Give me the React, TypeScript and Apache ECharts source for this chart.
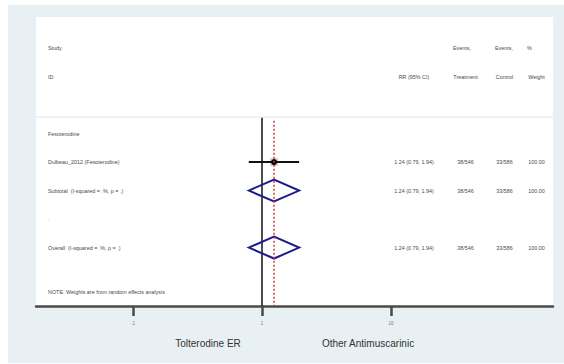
import React, { useEffect, useRef } from "react";
import * as echarts from "echarts";

// ---- data ----
const headerTop = ["Study", "Events,", "Events,", "%"];
const headerBottom = ["ID", "RR (95% CI)", "Treatment", "Control", "Weight"];
const rowLabels = [
  "Fesoterodine",
  "Dulbeau_2012 (Fesoterodine)",
  "Subtotal  (I-squared = .%, p = .)",
  ".",
  "Overall  (I-squared = .%, p = .)",
];
const rowKinds = ["group", "study", "diamond", "blank", "diamond"];
const rrEstimate = [null, 1.24, 1.24, null, 1.24];
const rrLower = [null, 0.79, 0.79, null, 0.79];
const rrUpper = [null, 1.94, 1.94, null, 1.94];
const ciLabels = ["", "1.24 (0.79, 1.94)", "1.24 (0.79, 1.94)", "", "1.24 (0.79, 1.94)"];
const eventsTreatment = ["", "38/546", "38/546", "", "38/546"];
const eventsControl = ["", "33/586", "33/586", "", "33/586"];
const weightPct = ["", "100.00", "100.00", "", "100.00"];
const overallRR = 1.24;
const nullRR = 1;
const tickValues = [0.1, 1, 10];
const tickLabels = [".1", "1", "10"];
const noteText = "NOTE: Weights are from random effects analysis";
const leftLabel = "Tolterodine ER";
const rightLabel = "Other Antimuscarinic";

// ---- layout ----
const FIRST_DATA_ROW = 3;
const NOTE_ROW = 8.55;
const COL_LEFT = 48;
const COL_CENTER = [414, 465.5, 504.5, 536.5];
const HEAD_TOP_X = [453, 495, 527];
const FONT = "Liberation Sans, Arial, sans-serif";
const TXT = 5.4;

type Cell = { x: number; text: string; align: string };
type TextRow = { row: number; cells: Cell[] };

const textRows: TextRow[] = [
  {
    row: 0,
    cells: [
      { x: COL_LEFT, text: headerTop[0], align: "left" },
      ...headerTop.slice(1).map((t, k) => ({ x: HEAD_TOP_X[k], text: t, align: "left" })),
    ],
  },
  {
    row: 1,
    cells: [
      { x: COL_LEFT, text: headerBottom[0], align: "left" },
      ...headerBottom.slice(1).map((t, k) => ({ x: COL_CENTER[k], text: t, align: "center" })),
    ],
  },
  ...rowLabels.map((lab, i) => ({
    row: FIRST_DATA_ROW + i,
    cells: [
      { x: COL_LEFT, text: lab, align: "left" },
      { x: COL_CENTER[0], text: ciLabels[i], align: "center" },
      { x: COL_CENTER[1], text: eventsTreatment[i], align: "center" },
      { x: COL_CENTER[2], text: eventsControl[i], align: "center" },
      { x: COL_CENTER[3], text: weightPct[i], align: "center" },
    ],
  })),
  { row: NOTE_ROW, cells: [{ x: COL_LEFT, text: noteText, align: "left" }] },
];

const studyData: number[][] = [];
const diamondData: number[][] = [];
rowKinds.forEach((k, i) => {
  const item = [rrEstimate[i] as number, FIRST_DATA_ROW + i, rrLower[i] as number, rrUpper[i] as number];
  if (k === "study") studyData.push(item);
  if (k === "diamond") diamondData.push(item);
});

export default function App() {
  const ref = useRef<HTMLDivElement>(null);
  useEffect(() => {
    if (!ref.current) return;
    const chart = echarts.init(ref.current, undefined, { renderer: "svg" });
    const option: any = {
      animation: false,
      backgroundColor: "#ffffff",
      grid: { left: 36, right: 11, top: 17, bottom: 58 },
      xAxis: {
        type: "log",
        logBase: 10,
        min: Math.pow(10, -1.752),
        max: Math.pow(10, 2.256),
        splitLine: { show: false },
        axisLine: { show: true, onZero: false, lineStyle: { color: "#4a4a4a", width: 2.5 } },
        axisTick: {
          show: true,
          customValues: tickValues,
          length: 10,
          lineStyle: { color: "#4a4a4a", width: 2.5 },
        },
        axisLabel: {
          show: true,
          customValues: tickValues,
          margin: 15,
          fontSize: 4.5,
          color: "#777777",
          fontFamily: FONT,
          formatter: (v: number) => {
            let best = 0;
            tickValues.forEach((t, k) => {
              if (Math.abs(Math.log10(t) - Math.log10(v)) < Math.abs(Math.log10(tickValues[best]) - Math.log10(v))) best = k;
            });
            return tickLabels[best];
          },
        },
      },
      yAxis: {
        type: "value",
        inverse: true,
        min: -1.088,
        max: 9.05,
        show: false,
      },
      graphic: [
        { type: "rect", z: -10, shape: { x: 8, y: 5, width: 556, height: 358 }, style: { fill: "#e8f0f3" }, silent: true },
        { type: "rect", z: -9, shape: { x: 36, y: 17, width: 517, height: 289 }, style: { fill: "#ffffff" }, silent: true },
        { type: "line", z: -8, shape: { x1: 36, y1: 117, x2: 553, y2: 117 }, style: { stroke: "#e0e4e6", lineWidth: 1 }, silent: true },
        {
          type: "text",
          x: 208,
          y: 343,
          style: { text: leftLabel, fontSize: 10, fill: "#333333", fontFamily: FONT, align: "center", verticalAlign: "middle" },
        },
        {
          type: "text",
          x: 368,
          y: 343,
          style: { text: rightLabel, fontSize: 10, fill: "#333333", fontFamily: FONT, align: "center", verticalAlign: "middle" },
        },
      ],
      series: [
        {
          type: "line",
          data: [[nullRR, 2.45], [nullRR, 9.05]],
          symbol: "none",
          lineStyle: { color: "#222222", width: 1.6 },
          z: 3,
        },
        {
          type: "custom",
          data: studyData,
          encode: { x: 0, y: 1 },
          z: 4,
          renderItem: (params: any, api: any) => {
            const est = api.value(0);
            const row = api.value(1);
            const p = api.coord([est, row]);
            const pl = api.coord([api.value(2), row]);
            const ph = api.coord([api.value(3), row]);
            return {
              type: "group",
              children: [
                { type: "rect", shape: { x: p[0] - 4, y: p[1] - 4, width: 8, height: 8 }, style: { fill: "#d2d2d2" } },
                { type: "line", shape: { x1: pl[0], y1: pl[1], x2: ph[0], y2: ph[1] }, style: { stroke: "#111111", lineWidth: 2 } },
                { type: "circle", shape: { cx: p[0], cy: p[1], r: 3 }, style: { fill: "#000000" } },
              ],
            };
          },
        },
        {
          type: "custom",
          data: diamondData,
          encode: { x: 0, y: 1 },
          z: 4,
          renderItem: (params: any, api: any) => {
            const est = api.value(0);
            const row = api.value(1);
            const h = 0.385;
            const pts = [
              api.coord([api.value(2), row]),
              api.coord([est, row - h]),
              api.coord([api.value(3), row]),
              api.coord([est, row + h]),
            ];
            return {
              type: "polygon",
              shape: { points: pts },
              style: { fill: "none", stroke: "#1c1c8a", lineWidth: 2 },
            };
          },
        },
        {
          type: "line",
          data: [[overallRR, 2.55], [overallRR, 9.05]],
          symbol: "none",
          lineStyle: { color: "#cf3b3b", width: 1.5, type: [2, 2] },
          z: 5,
        },
        {
          type: "custom",
          data: textRows.map((r) => [nullRR, r.row]),
          encode: { x: 0, y: 1 },
          z: 6,
          renderItem: (params: any, api: any) => {
            const r = textRows[params.dataIndex];
            const y = api.coord([nullRR, r.row])[1];
            return {
              type: "group",
              children: r.cells
                .filter((c) => c.text !== "")
                .map((c) => ({
                  type: "text",
                  x: c.x,
                  y,
                  style: {
                    text: c.text,
                    fontSize: TXT,
                    fill: "#4a4a4a",
                    fontFamily: FONT,
                    align: c.align,
                    verticalAlign: "middle",
                  },
                })),
            };
          },
        },
      ],
    };
    chart.setOption(option);
    return () => chart.dispose();
  }, []);
  return <div ref={ref} style={{ position: "fixed", left: 0, top: 0, width: 564, height: 364 }} />;
}
